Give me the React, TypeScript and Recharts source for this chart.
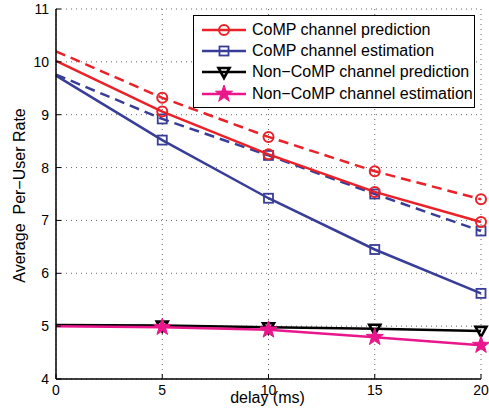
import { CartesianGrid, Label, Legend, Line, LineChart, XAxis, YAxis } from "recharts";

const delays = [0, 5, 10, 15, 20];
const compPred = [10.02, 9.06, 8.25, 7.54, 6.97];
const compPredDash = [10.2, 9.32, 8.58, 7.93, 7.4];
const compEst = [9.74, 8.52, 7.42, 6.45, 5.62];
const compEstDash = [9.76, 8.92, 8.23, 7.5, 6.8];
const nonCompPred = [5.02, 5.01, 4.98, 4.95, 4.91];
const nonCompEst = [5.0, 4.98, 4.93, 4.79, 4.64];
const xTicks = [0, 5, 10, 15, 20];
const yTicks = [4, 5, 6, 7, 8, 9, 10, 11];

const RED = "#ea2128";
const BLUE = "#383d97";
const PINK = "#e9168c";
const FONT = "'Liberation Sans', Arial, Helvetica, sans-serif";

type Marker = "circle" | "square" | "triangle" | "star";

const series: { key: string; name: string; color: string; marker: Marker; dashed: boolean }[] = [
  { key: "compPredDash", name: "", color: RED, marker: "circle", dashed: true },
  { key: "compEstDash", name: "", color: BLUE, marker: "square", dashed: true },
  { key: "nonCompPred", name: "Non\u2212CoMP channel prediction", color: "#000", marker: "triangle", dashed: false },
  { key: "nonCompEst", name: "Non\u2212CoMP channel estimation", color: PINK, marker: "star", dashed: false },
  { key: "compEst", name: "CoMP channel estimation", color: BLUE, marker: "square", dashed: false },
  { key: "compPred", name: "CoMP channel prediction", color: RED, marker: "circle", dashed: false },
];

const legendOrder = ["compPred", "compEst", "nonCompPred", "nonCompEst"];

const data = delays.map((d, i) => ({
  delay: d,
  compPred: compPred[i],
  compPredDash: compPredDash[i],
  compEst: compEst[i],
  compEstDash: compEstDash[i],
  nonCompPred: nonCompPred[i],
  nonCompEst: nonCompEst[i],
}));

function drawMarker(kind: Marker, cx: number, cy: number, color: string, key?: string) {
  if (kind === "circle") {
    return <circle key={key} cx={cx} cy={cy} r={5} fill="none" stroke={color} strokeWidth={2} />;
  }
  if (kind === "square") {
    return <rect key={key} x={cx - 4.5} y={cy - 4.5} width={9} height={9} fill="none" stroke={color} strokeWidth={1.8} />;
  }
  if (kind === "triangle") {
    const pts = `${cx - 5.5},${cy - 4} ${cx + 5.5},${cy - 4} ${cx},${cy + 6}`;
    return <polygon key={key} points={pts} fill="none" stroke={color} strokeWidth={2.6} strokeLinejoin="miter" />;
  }
  const pts: string[] = [];
  for (let k = 0; k < 10; k++) {
    const r = k % 2 === 0 ? 9 : 3.6;
    const a = -Math.PI / 2 + (k * Math.PI) / 5;
    pts.push(`${cx + r * Math.cos(a)},${cy + r * Math.sin(a)}`);
  }
  return <polygon key={key} points={pts.join(" ")} fill={color} stroke={color} strokeWidth={1} />;
}

function LegendBox() {
  return (
    <div
      style={{
        border: "1.5px solid #000",
        background: "#fff",
        width: 280,
        padding: "3px 0 3px 0",
        fontFamily: FONT,
        fontSize: 16,
        color: "#000",
      }}
    >
      {legendOrder.map((k) => {
        const s = series.find((x) => x.key === k)!;
        return (
          <div key={k} style={{ display: "flex", alignItems: "center", height: 21.3 }}>
            <svg width={58} height={20} style={{ flex: "none" }}>
              <line x1={8} x2={52} y1={10} y2={10} stroke={s.color} strokeWidth={2.5} />
              {drawMarker(s.marker, 30, 10, s.color)}
            </svg>
            <span style={{ whiteSpace: "nowrap" }}>{s.name}</span>
          </div>
        );
      })}
    </div>
  );
}

export default function App() {
  return (
    <div style={{ width: 489, height: 413, background: "#fff" }}>
      <style>{"body{margin:0}"}</style>
      <LineChart width={489} height={413} data={data} margin={{ top: 9, right: 8, bottom: 14, left: 16 }}>
        <CartesianGrid stroke="#666" strokeDasharray="1 4" strokeWidth={1} />
        <XAxis
          dataKey="delay"
          type="number"
          domain={[0, 20]}
          ticks={xTicks}
          height={20}
          tickSize={-5}
          tickMargin={11}
          axisLine={{ stroke: "#000", strokeWidth: 1.5 }}
          tickLine={{ stroke: "#000" }}
          tick={{ fill: "#000", fontSize: 14, fontFamily: FONT }}
        >
          <Label
            content={() => (
              <text x={267.5} y={403} textAnchor="middle" fontSize={16} fontFamily={FONT} fill="#000">
                delay (ms)
              </text>
            )}
          />
        </XAxis>
        <XAxis
          xAxisId="top"
          orientation="top"
          dataKey="delay"
          type="number"
          domain={[0, 20]}
          ticks={xTicks}
          height={0}
          tickSize={-5}
          tickFormatter={() => ""}
          axisLine={{ stroke: "#000", strokeWidth: 1.5 }}
          tickLine={{ stroke: "#000" }}
        />
        <YAxis
          type="number"
          domain={[4, 11]}
          ticks={yTicks}
          width={40}
          tickSize={-5}
          tickMargin={12}
          axisLine={{ stroke: "#000", strokeWidth: 1.5 }}
          tickLine={{ stroke: "#000" }}
          tick={{ fill: "#000", fontSize: 14, fontFamily: FONT }}
        >
          <Label
            content={() => (
              <text
                x={25}
                y={195.5}
                transform="rotate(-90 25 195.5)"
                textAnchor="middle"
                fontSize={16}
                fontFamily={FONT}
                fill="#000"
                style={{ whiteSpace: "pre" }}
              >
                {"Average  Per\u2212User Rate"}
              </text>
            )}
          />
        </YAxis>
        <YAxis
          yAxisId="right"
          orientation="right"
          type="number"
          domain={[4, 11]}
          ticks={yTicks}
          width={0}
          tickSize={-5}
          tickFormatter={() => ""}
          axisLine={{ stroke: "#000", strokeWidth: 1.5 }}
          tickLine={{ stroke: "#000" }}
        />
        <Legend
          layout="vertical"
          align="center"
          verticalAlign="middle"
          wrapperStyle={{ position: "absolute", left: 193, top: 15, width: "auto" }}
          content={() => <LegendBox />}
        />
        {series.map((s) => (
          <Line
            key={s.key}
            dataKey={s.key}
            name={s.name}
            type="linear"
            stroke={s.color}
            strokeWidth={2.5}
            strokeDasharray={s.dashed ? "10 6" : undefined}
            isAnimationActive={false}
            activeDot={false}
            dot={(p: any) =>
              p.index === 0 ? <g key={p.key ?? `${s.key}-${p.index}`} /> : drawMarker(s.marker, p.cx, p.cy, s.color, p.key ?? `${s.key}-${p.index}`)
            }
          />
        ))}
      </LineChart>
    </div>
  );
}
